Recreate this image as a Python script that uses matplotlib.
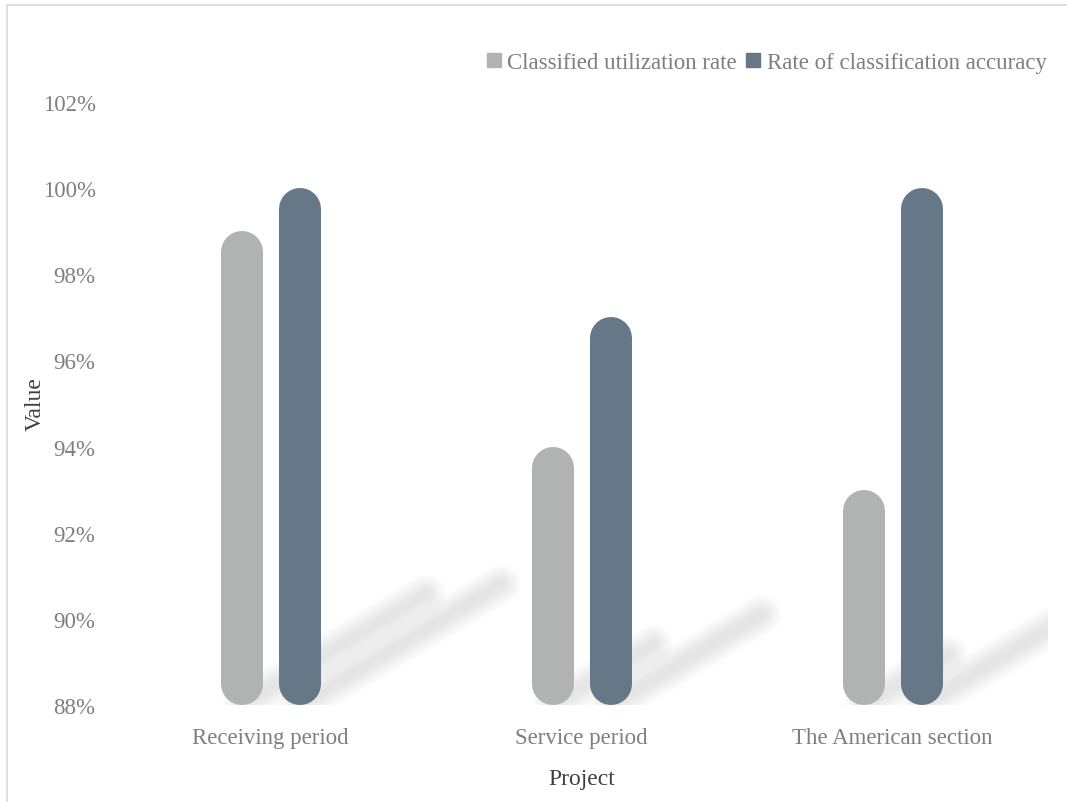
import numpy as np
import matplotlib
matplotlib.use('Agg')
import matplotlib.pyplot as plt
from matplotlib.patches import Rectangle
from matplotlib.lines import Line2D

categories = ['Receiving period', 'Service period', 'The American section']
series_names = ['Classified utilization rate', 'Rate of classification accuracy']
utilization = [99, 94, 93]
accuracy = [100, 97, 100]
yticks = [88, 90, 92, 94, 96, 98, 100, 102]

colors = ['#b1b3b2', '#667788']
text_gray = '#7f7f7f'
title_gray = '#404040'

plt.rcParams['font.family'] = ['Liberation Serif', 'DejaVu Serif']

W, H = 1067, 803
fig = plt.figure(figsize=(W / 100, H / 100), dpi=100)
ax = fig.add_axes([115 / W, 97 / H, (1048 - 115) / W, (700 - 97) / H])

base = 88
ax.set_xlim(-0.5, len(categories) - 0.5)
ax.set_ylim(88, 102)

# pixel scale of data units
p0 = ax.transData.transform((0, 88))
p1 = ax.transData.transform((1, 89))
px_x = p1[0] - p0[0]
px_y = p1[1] - p0[1]

bar_px = 42
offset = 29 / px_x
r = (bar_px / 2) / px_y
lw = bar_px * 72 / 100

x = np.arange(len(categories))
for i, vals in enumerate([utilization, accuracy]):
    xs = x + (i * 2 - 1) * offset
    for xi, v in zip(xs, vals):
        h = v - base
        # soft shadow cast up-right from the base
        ex = xi + 0.39 * h * px_y / px_x
        ey = base + 0.234 * h
        for k in np.linspace(40, 6, 14):
            ax.plot([xi, ex], [base, ey], color='#c8c8c8', lw=k * 72 / 100,
                    alpha=0.032, solid_capstyle='round', zorder=1)
        ax.plot([xi, xi], [base + r, v - r], color=colors[i], lw=lw,
                solid_capstyle='round', zorder=3, clip_on=False)

ax.set_xticks(x)
ax.set_xticklabels(categories, fontsize=16.5, color=text_gray)
ax.set_yticks(yticks)
ax.set_yticklabels([f'{t}%' for t in yticks], fontsize=16.5, color=text_gray)
ax.tick_params(length=0, pad=14)
ax.tick_params(axis='x', pad=16)
for s in ax.spines.values():
    s.set_visible(False)

ax.set_xlabel('Project', fontsize=17, color=title_gray, labelpad=14)
ax.set_ylabel('Value', fontsize=17, color=title_gray)
ax.yaxis.set_label_coords((46 - 115) / 933, 0.5)

handles = [Line2D([], [], marker='s', ls='', color=c, markersize=10) for c in colors]
fig.legend(handles, series_names, loc='center right', bbox_to_anchor=(1056 / W, 1 - 63 / H),
           ncol=2, frameon=False, fontsize=16.5, labelcolor=text_gray,
           handlelength=0.6, handletextpad=0.3, columnspacing=0.4, borderaxespad=0)

# light frame around the picture
fig.patches.append(Rectangle((7 / W, -0.1), 1.2, 1 - 6 / H + 0.1, transform=fig.transFigure,
                             fill=False, edgecolor='#d9d9d9', lw=1.2))

fig.savefig('out.png', dpi=100)
